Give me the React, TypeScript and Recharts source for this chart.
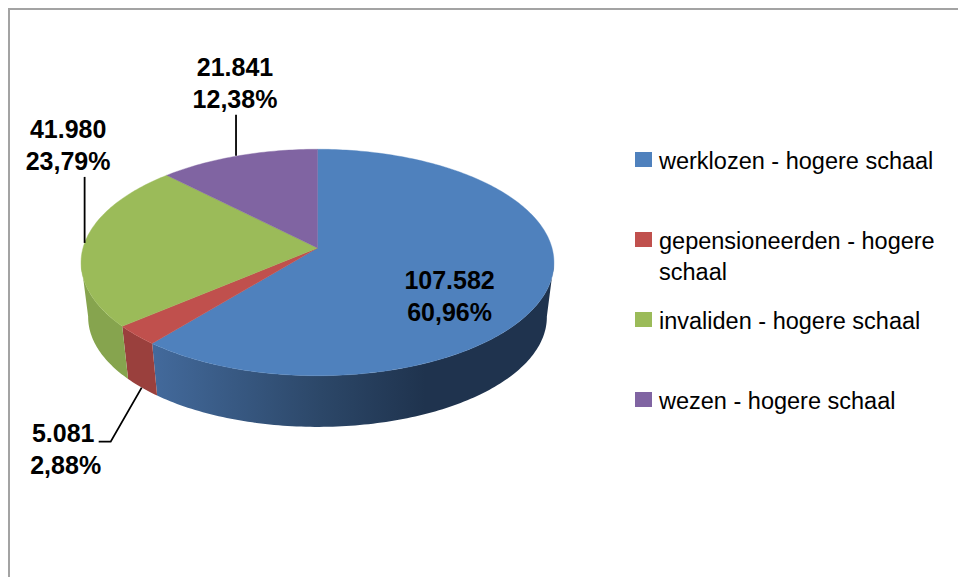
import React from 'react';
import { PieChart, Pie, Legend } from 'recharts';

const categories = [
  'werklozen - hogere schaal',
  'gepensioneerden - hogere schaal',
  'invaliden - hogere schaal',
  'wezen - hogere schaal',
];
const values = [107582, 5081, 41980, 21841];
const colors = ['#4f81bd', '#c0504d', '#9bbb59', '#8064a2'];
const wallColors = ['url(#blueWall)', '#9a403d', '#86a44e', '#6d5590'];

const data = categories.map((name, i) => ({ name, value: values[i], fill: colors[i] }));

// Excel's 3D pie: a tilted disc seen in perspective, so the centre sits above the middle
// of the ellipse. Recharts only gives us the angles, the projection happens here.
const TILT = 0.475;
const PERSPECTIVE = 0.128;
const WALL_SCALE = 0.97;
const WALL_DROP = 55;
const WALL_FROM = 97;
const WALL_TO = 263;

const rad = (deg: number) => (deg * Math.PI) / 180;

function project(cx: number, cy: number, r: number, theta: number, scale = 1) {
  const u = Math.sin(rad(theta));
  const v = -Math.cos(rad(theta));
  const s = scale / (1 - PERSPECTIVE * v);
  return { x: cx + r * u * s, y: cy + r * TILT * v * s };
}

function arcPoints(cx: number, cy: number, r: number, from: number, to: number, scale = 1) {
  const pts = [];
  const steps = Math.max(2, Math.ceil(Math.abs(to - from)));
  for (let i = 0; i <= steps; i++) {
    pts.push(project(cx, cy, r, from + ((to - from) * i) / steps, scale));
  }
  return pts;
}

const toPath = (pts: { x: number; y: number }[]) =>
  pts.map((p, i) => `${i ? 'L' : 'M'}${p.x.toFixed(2)},${p.y.toFixed(2)}`).join(' ') + ' Z';

function Slice3D(props: any) {
  const { cx, cy, outerRadius, startAngle, endAngle, fill, index } = props;
  const from = 90 - startAngle;
  const to = 90 - endAngle;
  const top = [{ x: cx, y: cy }, ...arcPoints(cx, cy, outerRadius, from, to)];

  const wallFrom = Math.max(from, WALL_FROM);
  const wallTo = Math.min(to, WALL_TO);
  let wall = null;
  if (wallTo > wallFrom) {
    const upper = arcPoints(cx, cy, outerRadius, wallFrom, wallTo);
    const lower = arcPoints(cx, cy + WALL_DROP, outerRadius, wallFrom, wallTo, WALL_SCALE).reverse();
    wall = <path d={toPath([...upper, ...lower])} fill={wallColors[index]} stroke="none" />;
  }

  return (
    <g>
      {wall}
      <path d={toPath(top)} fill={fill} stroke={fill} strokeWidth={0.4} />
    </g>
  );
}

// where the text and leader go, relative to the rim point of each slice
const labelLayout = [
  { rim: 'top', dx: -98.6, dy: 2, second: -98.6, leader: null },
  { rim: 'bottom', dx: -78.5, dy: 54, second: -76, leader: [[0, 0], [-31, 54], [-43, 54]] },
  { rim: 'top', dx: -16.5, dy: -104.5, second: -16.5, leader: [[0, 0], [0, -66]] },
  { rim: 'top', dx: -3, dy: -79.5, second: -3, leader: [[-2, 0], [-2, -41]] },
];

function renderLabel(props: any) {
  const { cx, cy, outerRadius, midAngle, index, value, percent } = props;
  const cfg = labelLayout[index];
  const theta = 90 - midAngle;
  const p =
    cfg.rim === 'bottom'
      ? project(cx, cy + WALL_DROP, outerRadius, theta, WALL_SCALE)
      : project(cx, cy, outerRadius, theta);
  const valueText = value.toLocaleString('nl-NL');
  const pctText = (percent * 100).toFixed(2).replace('.', ',') + '%';
  return (
    <g key={index} fontFamily="'Liberation Sans', Arial, sans-serif" fontWeight="bold" fontSize={25} fill="#000">
      {cfg.leader && (
        <polyline
          points={cfg.leader.map(([dx, dy]) => `${p.x + dx},${p.y + dy}`).join(' ')}
          fill="none"
          stroke="#000"
          strokeWidth={1.8}
        />
      )}
      <text x={p.x + cfg.dx} y={p.y + cfg.dy} textAnchor="middle">{valueText}</text>
      <text x={p.x + cfg.second} y={p.y + cfg.dy + 32} textAnchor="middle">{pctText}</text>
    </g>
  );
}

function LegendList({ payload }: any) {
  return (
    <div style={{ fontFamily: "'Liberation Sans', Arial, sans-serif", fontSize: 23.5, lineHeight: '31px', color: '#000' }}>
      {(payload || []).map((item: any) => (
        <div key={item.value} style={{ height: 80, display: 'flex', alignItems: 'flex-start' }}>
          <span style={{ width: 17, height: 15, marginTop: 8, background: item.color, flex: 'none' }} />
          <span style={{ marginLeft: 7, marginTop: 2, width: 291 }}>{item.value}</span>
        </div>
      ))}
    </div>
  );
}

export default function App() {
  return (
    <div style={{ position: 'fixed', left: 0, top: 0, width: 958, height: 577, background: '#fff', overflow: 'hidden' }}>
      <div
        style={{
          position: 'absolute', left: 8, top: 8, width: 950, height: 569, boxSizing: 'border-box',
          borderTop: '2px solid #a3a3a3', borderLeft: '2px solid #a3a3a3',
        }}
      />
      <PieChart width={958} height={577} margin={{ top: 0, right: 0, bottom: 0, left: 0 }}>
        <defs>
          <linearGradient id="blueWall" x1="0" y1="0" x2="1" y2="0">
            <stop offset="0" stopColor="#436a9c" />
            <stop offset="0.42" stopColor="#2c4768" />
            <stop offset="0.68" stopColor="#1f334e" />
            <stop offset="1" stopColor="#1f334e" />
          </linearGradient>
        </defs>
        <Pie
          data={data}
          dataKey="value"
          nameKey="name"
          cx={317.5}
          cy={248}
          innerRadius={0}
          outerRadius={234.5}
          startAngle={90}
          endAngle={-270}
          paddingAngle={0}
          stroke="none"
          shape={Slice3D}
          label={renderLabel}
          labelLine={false}
          isAnimationActive={false}
          rootTabIndex={-1}
        />
        <Legend
          layout="vertical"
          align="right"
          verticalAlign="middle"
          itemSorter={null}
          content={LegendList as any}
          wrapperStyle={{ position: 'absolute', left: 635, top: 144, right: 'auto', bottom: 'auto', width: 315 }}
        />
      </PieChart>
    </div>
  );
}
